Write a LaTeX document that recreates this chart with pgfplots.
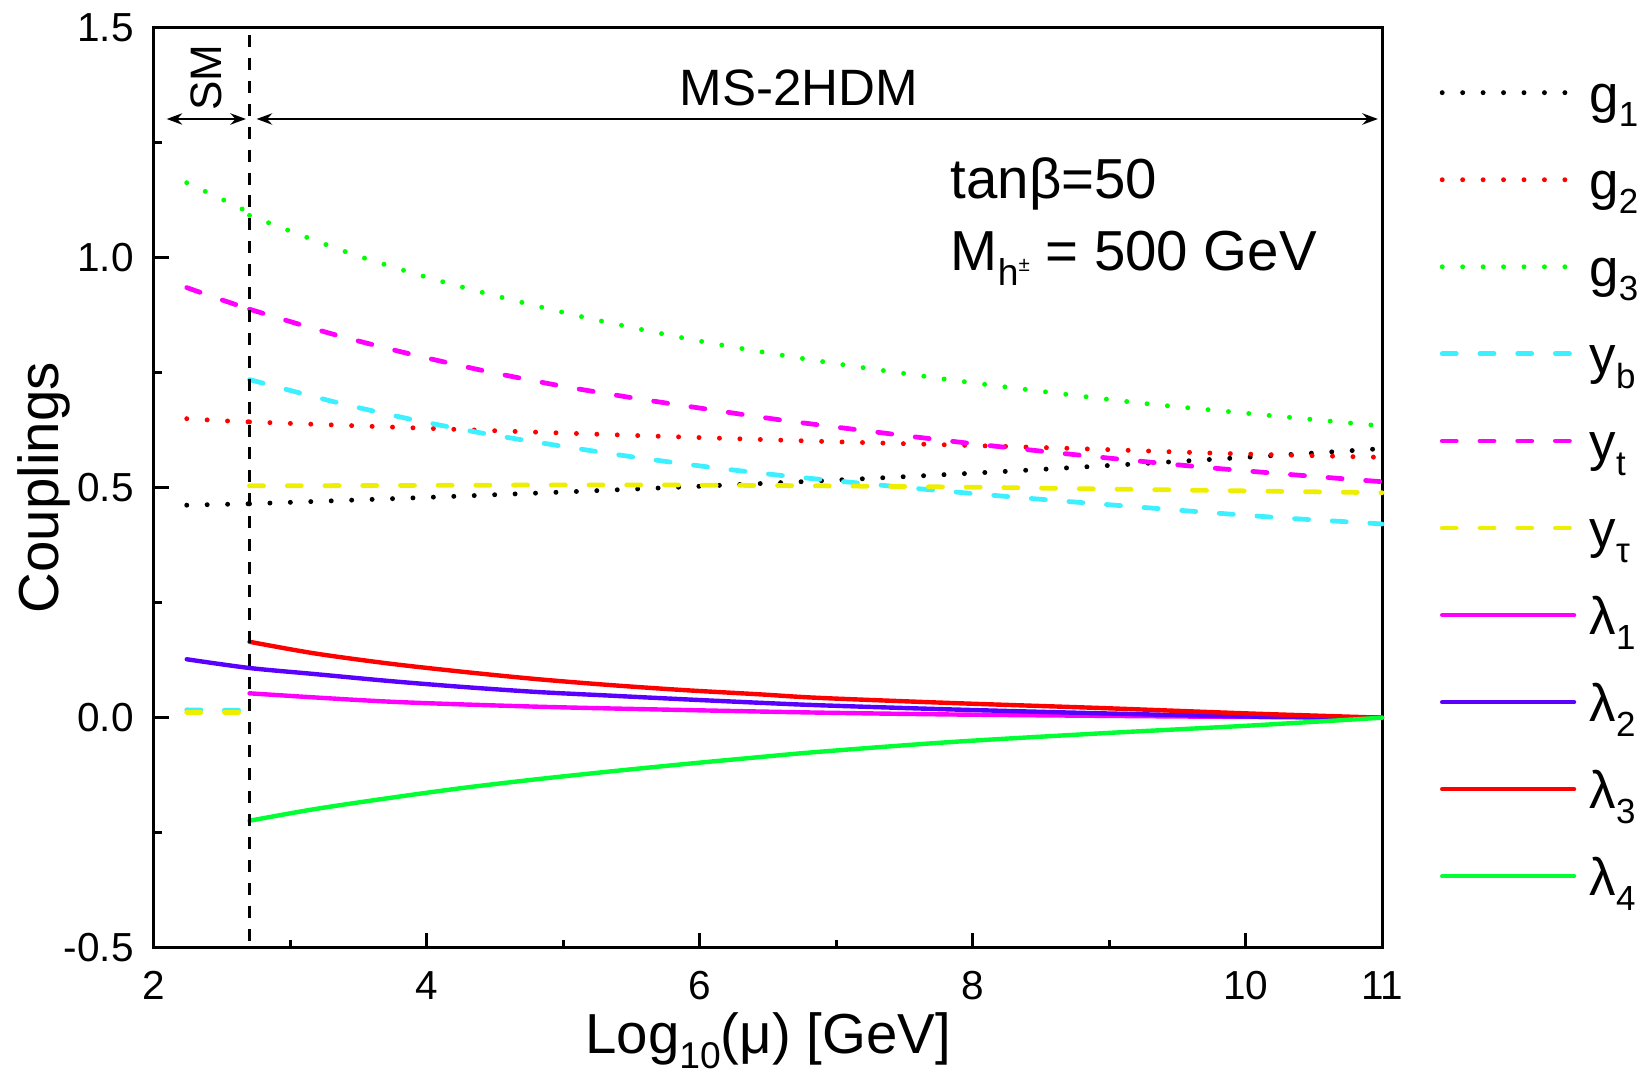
\documentclass[border=0pt]{standalone}
\usepackage{fontspec}
\setmainfont{Liberation Sans}
\usepackage{graphicx}
\usepackage{pgfplots}
\pgfplotsset{compat=1.18}
\usetikzlibrary{arrows.meta}
\definecolor{cBlk}{RGB}{0,0,0}
\definecolor{cRed}{RGB}{255,0,0}
\definecolor{cG3}{RGB}{0,255,0}
\definecolor{cYb}{RGB}{60,240,255}
\definecolor{cYt}{RGB}{255,0,255}
\definecolor{cYtau}{RGB}{238,238,0}
\definecolor{cL1}{RGB}{255,0,255}
\definecolor{cL2}{RGB}{90,0,255}
\definecolor{cL3}{RGB}{255,0,0}
\definecolor{cL4}{RGB}{0,255,51}
\newcommand{\sbs}[1]{\raisebox{-0.28em}{\scalebox{0.66}{#1}}}
\tikzset{
  dotsty/.style={line width=1.4pt, line cap=round, dash pattern=on 0pt off 5.8pt},
  dashsty/.style={line width=1.35pt, line cap=round, dash pattern=on 4.0pt off 6.7pt},
  solsty/.style={line width=1.25pt, line cap=round},
}
\begin{document}
\begin{tikzpicture}
\begin{axis}[
  width=348.4pt, height=261pt, scale only axis,
  xmin=2, xmax=11, ymin=-0.5, ymax=1.5,
  clip=false,
  xtick={2,4,6,8,10,11}, minor xtick={3,5,7,9},
  ytick={-0.5,0,0.5,1,1.5}, minor ytick={-0.25,0.25,0.75,1.25},
  tick align=inside, tick pos=left,
  major tick length=4.3pt, minor tick length=2.3pt,
  every tick/.style={black, line width=0.85pt},
  axis line style={line width=0.85pt},
  /pgf/number format/assume math mode=true,
  ticklabel style={font=\fontsize{11.5}{13}\selectfont},
  yticklabel style={/pgf/number format/fixed, /pgf/number format/fixed zerofill, /pgf/number format/precision=1, xshift=-2.2pt},
  xticklabel style={yshift=-3.2pt},
  xlabel={Log\sbs{10}(μ) [GeV]},
  ylabel={Couplings},
  label style={font=\fontsize{16}{19}\selectfont},
  xlabel style={at={(axis description cs:0.5,-0.1145)}, anchor=base},
  ylabel style={at={(axis description cs:-0.0774,0.5)}, anchor=base},
  legend style={at={(axis description cs:1.047,0.9767)}, anchor=north west, draw=none, fill=none,
    inner sep=0pt, outer sep=0pt, row sep=0pt, font=\fontsize{15}{18}\selectfont,
    nodes={inner ysep=0pt, inner xsep=3.7pt, text height=17.85pt, text depth=6.85pt}},
  legend cell align=left,
  legend image code/.code={\draw[#1] (0pt,0pt) -- (37.4pt,0pt);},
]
% g1
\addplot[dotsty, color=cBlk, forget plot] coordinates {(2.24,0.462) (2.47,0.4635) (2.70,0.465)};
\addplot[dotsty, color=cBlk, smooth] coordinates {(2.70,0.465) (4.096,0.480) (5.48,0.4965) (6.86,0.5146) (8.09,0.533) (9.157,0.551) (10.0,0.566) (10.85,0.582) (11,0.585)};
\addlegendentry{g\sbs{1}}
% g2
\addplot[dotsty, color=cRed, forget plot] coordinates {(2.24,0.650) (2.47,0.646) (2.70,0.643)};
\addplot[dotsty, color=cRed, smooth] coordinates {(2.70,0.643) (4.096,0.628) (5.48,0.614) (6.86,0.601) (8.55,0.587) (9.78,0.575) (11,0.566)};
\addlegendentry{g\sbs{2}}
% g3
\addplot[dotsty, color=cG3, forget plot] coordinates {(2.24,1.163) (2.47,1.131) (2.70,1.098)};
\addplot[dotsty, color=cG3, smooth] coordinates {(2.70,1.092) (3.437,1.0096) (4.172,0.943) (5.072,0.876) (5.977,0.820) (6.88,0.775) (7.95,0.730) (9.17,0.686) (10.0,0.662) (10.86,0.638) (11,0.634)};
\addlegendentry{g\sbs{3}}
% yb
\addplot[dashsty, color=cYb, forget plot] coordinates {(2.24,0.017) (2.70,0.016)};
\addplot[dashsty, color=cYb, smooth] coordinates {(2.70,0.735) (3.316,0.687) (3.863,0.650) (4.416,0.618) (4.974,0.591) (5.53,0.566) (6.09,0.544) (6.649,0.525) (7.488,0.501) (8.05,0.486) (8.613,0.472) (9.17,0.459) (9.73,0.446) (10.29,0.434) (10.85,0.424) (11,0.421)};
\addlegendentry{y\sbs{b}}
% yt
\addplot[dashsty, color=cYt, forget plot, smooth] coordinates {(2.24,0.935) (2.47,0.911) (2.70,0.888)};
\addplot[dashsty, color=cYt, smooth] coordinates {(2.70,0.888) (3.308,0.834) (3.858,0.792) (4.405,0.755) (4.958,0.7226) (5.514,0.695) (6.07,0.670) (6.625,0.646) (7.463,0.6146) (8.02,0.595) (8.58,0.577) (9.144,0.560) (9.71,0.544) (10.27,0.530) (10.82,0.517) (11,0.513)};
\addlegendentry{y\sbs{t}}
% ytau
\addplot[dashsty, color=cYtau, forget plot] coordinates {(2.24,0.012) (2.70,0.012)};
\addplot[dashsty, color=cYtau, smooth] coordinates {(2.70,0.504) (4.0,0.505) (5.5,0.506) (6.9,0.504) (8.0,0.501) (9.0,0.497) (10.0,0.493) (11,0.489)};
\addlegendentry{y\sbs{τ}}
% lambda1
\addplot[solsty, color=cL1, smooth] coordinates {(2.70,0.053) (3.714,0.035) (4.8,0.024) (5.883,0.0167) (6.88,0.011) (7.835,0.007) (8.94,0.004) (10.04,0.0015) (11,0.0)};
\addlegendentry{λ\sbs{1}}
% lambda2
\addplot[solsty, color=cL2, smooth] coordinates {(2.24,0.127) (2.70,0.108) (3.172,0.095) (3.714,0.080) (4.256,0.067) (4.8,0.056) (5.34,0.048) (5.883,0.040) (6.425,0.0326) (6.88,0.027) (7.835,0.018) (8.94,0.0095) (10.04,0.0025) (11,0.0)};
\addlegendentry{λ\sbs{2}}
% lambda3
\addplot[solsty, color=cL3, smooth] coordinates {(2.70,0.165) (3.172,0.140) (3.714,0.118) (4.256,0.100) (4.8,0.084) (5.34,0.071) (5.883,0.060) (6.425,0.051) (6.88,0.043) (7.835,0.032) (8.94,0.021) (10.04,0.009) (11,0.0)};
\addlegendentry{λ\sbs{3}}
% lambda4
\addplot[solsty, color=cL4, smooth] coordinates {(2.70,-0.224) (3.172,-0.199) (3.714,-0.175) (4.256,-0.153) (4.8,-0.134) (5.34,-0.117) (5.883,-0.101) (6.425,-0.086) (6.88,-0.074) (7.835,-0.053) (8.94,-0.034) (10.04,-0.017) (11,0.0)};
\addlegendentry{λ\sbs{4}}

% annotations
\draw[line width=0.7pt, dash pattern=on 3.4pt off 3.1pt] (axis cs:2.699,1.484) -- (axis cs:2.699,-0.5);
\draw[line width=0.75pt, {Stealth[length=4.4pt,width=3.2pt]}-{Stealth[length=4.4pt,width=3.2pt]}] (axis cs:2.093,1.3015) -- (axis cs:2.674,1.3015);
\draw[line width=0.75pt, {Stealth[length=4.4pt,width=3.2pt]}-{Stealth[length=4.4pt,width=3.2pt]}] (axis cs:2.752,1.3015) -- (axis cs:10.97,1.3015);
\node[font=\fontsize{14.5}{17}\selectfont, anchor=base, inner sep=0pt] at (axis cs:6.725,1.33) {MS-2HDM};
\node[font=\fontsize{12.5}{15}\selectfont, rotate=90, anchor=base, inner sep=0pt] at (axis cs:2.496,1.392) {SM};
\node[font=\fontsize{16}{19}\selectfont, anchor=base west, inner sep=0pt] at (axis cs:7.835,1.1276) {tanβ=50};
\node[font=\fontsize{16}{19}\selectfont, anchor=base west, inner sep=0pt] at (axis cs:7.835,0.973) {M\sbs{h\raisebox{0.4em}{\scalebox{0.55}{±}}} = 500 GeV};

\coordinate (bbSW) at (rel axis cs:-0.1254,-0.1471);
\coordinate (bbNE) at (rel axis cs:1.2182,1.0301);
\end{axis}
\pgfresetboundingbox
\path (bbSW) rectangle (bbNE);
\end{tikzpicture}
\end{document}
